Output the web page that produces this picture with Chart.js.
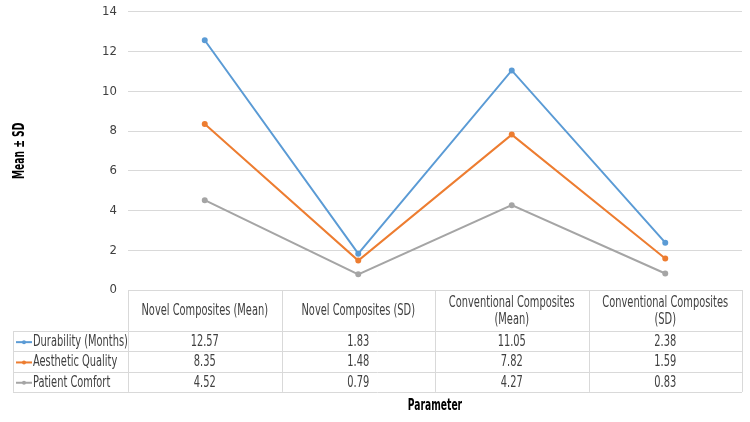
<!DOCTYPE html>
<html>
<head>
<meta charset="utf-8">
<script src="https://cdn.jsdelivr.net/npm/chart.js@4/dist/chart.umd.min.js"></script>
<style>
html,body{margin:0;padding:0;background:#fff;}
#wrap{width:750px;height:422px;position:relative;}
</style>
</head>
<body>
<div id="wrap"><canvas id="c" width="750" height="422"></canvas></div>
<script>
const categories = ['Novel Composites (Mean)', 'Novel Composites (SD)', 'Conventional Composites (Mean)', 'Conventional Composites (SD)'];
const durability = [12.57, 1.83, 11.05, 2.38];
const aesthetic = [8.35, 1.48, 7.82, 1.59];
const comfort = [4.52, 0.79, 4.27, 0.83];
const seriesNames = ['Durability (Months)', 'Aesthetic Quality', 'Patient Comfort'];
const seriesColors = ['#5b9bd5', '#ed7d31', '#a5a5a5'];
const yTicks = [0, 2, 4, 6, 8, 10, 12, 14];

const FONT = "'DejaVu Sans Condensed', 'Liberation Sans Narrow', sans-serif";
const TXT = '#404040';

function squeezedText(ctx, text, x, y, font, align, color, sx) {
  ctx.save();
  ctx.font = font;
  ctx.fillStyle = color;
  ctx.textBaseline = 'middle';
  ctx.textAlign = align;
  ctx.translate(x, y);
  ctx.scale(sx, 1);
  ctx.fillText(text, 0, 0);
  ctx.restore();
}
function squeezedWidth(ctx, text, font, sx) {
  ctx.save(); ctx.font = font; const w = ctx.measureText(text).width * sx; ctx.restore(); return w;
}

const tablePlugin = {
  id: 'dataTable',
  afterDraw(chart) {
    const ctx = chart.ctx;
    const x = chart.scales.x;
    const ca = chart.chartArea;
    const n = categories.length;
    const half = (x.getPixelForValue(1) - x.getPixelForValue(0)) / 2;
    const bounds = [];
    for (let i = 0; i < n; i++) bounds.push(x.getPixelForValue(i) - half);
    bounds.push(x.getPixelForValue(n - 1) + half);
    const top = ca.bottom;
    const headerH = 41, rowH = 20.3, legendLeft = 13;
    const rows = [durability, aesthetic, comfort];
    const bottom = top + headerH + rows.length * rowH;
    ctx.save();
    ctx.strokeStyle = '#d9d9d9';
    ctx.lineWidth = 1;
    ctx.beginPath();
    bounds.forEach(b => { const bx = Math.round(b) + 0.5; ctx.moveTo(bx, top); ctx.lineTo(bx, bottom); });
    ctx.moveTo(legendLeft + 0.5, top + headerH); ctx.lineTo(legendLeft + 0.5, bottom);
    for (let r = 0; r <= rows.length; r++) {
      const yy = Math.round(top + headerH + r * rowH) + 0.5;
      ctx.moveTo(legendLeft, yy); ctx.lineTo(bounds[n], yy);
    }
    ctx.stroke();
    ctx.restore();

    const f = '15px ' + FONT;
    const sx = 0.73;
    // header
    for (let i = 0; i < n; i++) {
      const cx = x.getPixelForValue(i);
      const maxW = bounds[i + 1] - bounds[i] - 12;
      const label = categories[i];
      let lines = [label];
      if (squeezedWidth(ctx, label, f, sx) > maxW) {
        const idx = label.lastIndexOf(' ');
        lines = [label.slice(0, idx), label.slice(idx + 1)];
      }
      const cy = top + headerH / 2 + 1;
      const lh = 17;
      lines.forEach((ln, k) => squeezedText(ctx, ln, cx, cy + (k - (lines.length - 1) / 2) * lh, f, 'center', TXT, sx));
    }
    // rows
    rows.forEach((vals, r) => {
      const cy = top + headerH + r * rowH + rowH / 2 + 1;
      vals.forEach((v, i) => squeezedText(ctx, v.toFixed(2), x.getPixelForValue(i), cy, f, 'center', TXT, sx));
      ctx.save();
      ctx.strokeStyle = seriesColors[r];
      ctx.lineWidth = 2;
      ctx.beginPath();
      ctx.moveTo(legendLeft + 3, cy); ctx.lineTo(legendLeft + 19, cy);
      ctx.stroke();
      ctx.fillStyle = seriesColors[r];
      ctx.beginPath(); ctx.arc(legendLeft + 11, cy, 2, 0, Math.PI * 2); ctx.fill();
      ctx.restore();
      squeezedText(ctx, seriesNames[r], legendLeft + 20, cy, f, 'left', TXT, sx);
    });
    // axis titles
    const bf = 'bold 15px ' + FONT;
    squeezedText(ctx, 'Parameter', (ca.left + ca.right) / 2, bottom + 14, bf, 'center', '#000', 0.68);
    ctx.save();
    ctx.translate(20, (ca.top + ca.bottom) / 2);
    ctx.rotate(-Math.PI / 2);
    squeezedText(ctx, 'Mean ± SD', 0, 0, bf, 'center', '#000', 0.68);
    ctx.restore();
  }
};

const data = {
  labels: categories,
  datasets: [durability, aesthetic, comfort].map((vals, i) => ({
    label: seriesNames[i],
    data: vals,
    borderColor: seriesColors[i],
    backgroundColor: seriesColors[i],
    borderWidth: 2,
    pointRadius: 2,
    pointHoverRadius: 2,
    tension: 0,
    fill: false
  }))
};

new Chart(document.getElementById('c'), {
  type: 'line',
  data,
  options: {
    responsive: false,
    animation: false,
    layout: { padding: { top: 0, right: 8, bottom: 132, left: 0 } },
    plugins: { legend: { display: false }, tooltip: { enabled: false } },
    scales: {
      x: { type: 'category', offset: true, display: false },
      y: {
        min: 0, max: 14,
        afterBuildTicks: s => { s.ticks = yTicks.map(v => ({ value: v })); },
        afterFit: s => { s.width = 128; },
        border: { display: false },
        grid: { color: '#d9d9d9', drawTicks: true, tickLength: 7, tickColor: 'rgba(0,0,0,0)', lineWidth: 1 },
        ticks: { color: '#404040', padding: 4, font: { family: FONT, size: 13 } },
        title: { display: false, text: 'Mean ± SD' }
      }
    }
  },
  plugins: [tablePlugin]
});
</script>
</body>
</html>
